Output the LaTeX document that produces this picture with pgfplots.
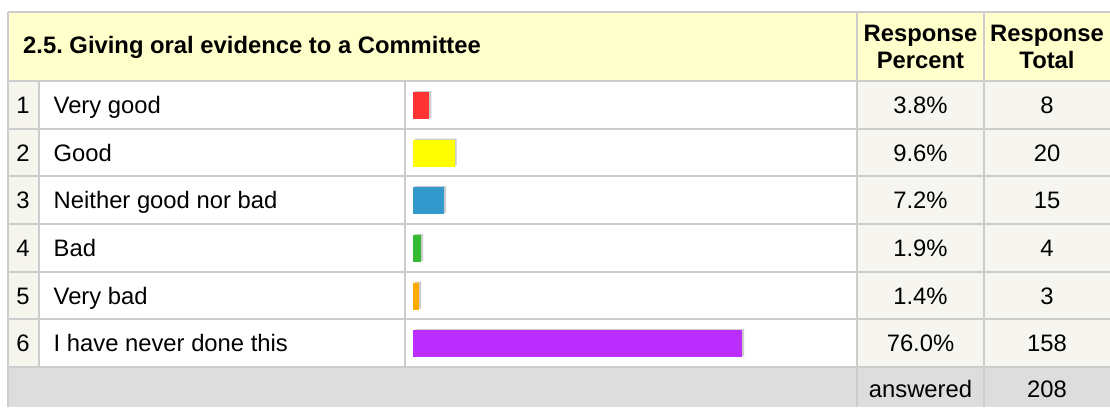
\documentclass[border=0pt]{standalone}
\usepackage{pgfplots}
\pgfplotsset{compat=1.18}
\usepackage{fontspec}
\setmainfont{Liberation Sans}
\frenchspacing
\definecolor{hdr}{HTML}{FFFFCC}
\definecolor{numbg}{HTML}{F5F5EE}
\definecolor{cellbg}{HTML}{F6F5EF}
\definecolor{ansbg}{HTML}{DDDDDD}
\definecolor{grid}{HTML}{CCCCCC}
\definecolor{cred}{HTML}{FF3333}
\definecolor{cyel}{HTML}{FFFF00}
\definecolor{cblue}{HTML}{3399CC}
\definecolor{cgreen}{HTML}{33BB33}
\definecolor{corange}{HTML}{FFAA00}
\definecolor{cpurple}{HTML}{BB2EFF}
\tikzset{txt/.style={inner sep=0pt,font=\fontsize{23.8}{27}\selectfont}}
\begin{document}
\begin{tikzpicture}
\useasboundingbox (0,0) rectangle (1110pt,407pt);
\begin{axis}[at={(0,0)},anchor=south west,scale only axis,width=1110pt,height=407pt,
  xmin=0,xmax=1110,ymin=0,ymax=407,y dir=reverse,hide axis,clip=true]
% backgrounds
\fill[hdr] (8,12) rectangle (1110,81);
\fill[numbg] (8,81) rectangle (38,367);
\fill[white] (38,81) rectangle (857,367);
\fill[cellbg] (857,81) rectangle (1110,367);
\fill[ansbg] (8,367) rectangle (1110,407);
% grid lines
\draw[grid,line width=2pt] (8,12) -- (1110,12);
\draw[grid,line width=2pt] (8,81) -- (1110,81);
\draw[grid,line width=2pt] (8,128.7) -- (1110,128.7);
\draw[grid,line width=2pt] (8,176.3) -- (1110,176.3);
\draw[grid,line width=2pt] (8,224) -- (1110,224);
\draw[grid,line width=2pt] (8,271.7) -- (1110,271.7);
\draw[grid,line width=2pt] (8,319.3) -- (1110,319.3);
\draw[grid,line width=2pt] (8,367) -- (1110,367);
\draw[grid,line width=2pt] (8,12) -- (8,407);
\draw[grid,line width=2pt] (38.5,81) -- (38.5,367);
\draw[grid,line width=2pt] (404.5,81) -- (404.5,367);
\draw[grid,line width=2pt] (857,12) -- (857,407);
\draw[grid,line width=2pt] (984,12) -- (984,407);
% header text
\node[txt,anchor=base west,font=\fontsize{23.8}{27}\selectfont\bfseries] at (23,53.5) {2.5. Giving oral evidence to a Committee};
\node[txt,align=center,font=\fontsize{23.8}{27}\selectfont\bfseries] at (920.5,47) {Response\\Percent};
\node[txt,align=center,font=\fontsize{23.8}{27}\selectfont\bfseries] at (1047,47) {Response\\Total};
% row 1
\node[txt,anchor=base] at (23,113.5) {1};
\node[txt,anchor=base west] at (53.5,113.5) {Very good};
\node[txt,anchor=base] at (920.5,113.5) {3.8\%};
\node[txt,anchor=base] at (1047,113.5) {8};
% row 2
\node[txt,anchor=base] at (23,161) {2};
\node[txt,anchor=base west] at (53.5,161) {Good};
\node[txt,anchor=base] at (920.5,161) {9.6\%};
\node[txt,anchor=base] at (1047,161) {20};
% row 3
\node[txt,anchor=base] at (23,208.7) {3};
\node[txt,anchor=base west] at (53.5,208.7) {Neither good nor bad};
\node[txt,anchor=base] at (920.5,208.7) {7.2\%};
\node[txt,anchor=base] at (1047,208.7) {15};
% row 4
\node[txt,anchor=base] at (23,256.4) {4};
\node[txt,anchor=base west] at (53.5,256.4) {Bad};
\node[txt,anchor=base] at (920.5,256.4) {1.9\%};
\node[txt,anchor=base] at (1047,256.4) {4};
% row 5
\node[txt,anchor=base] at (23,304) {5};
\node[txt,anchor=base west] at (53.5,304) {Very bad};
\node[txt,anchor=base] at (920.5,304) {1.4\%};
\node[txt,anchor=base] at (1047,304) {3};
% row 6
\node[txt,anchor=base] at (23,351.7) {6};
\node[txt,anchor=base west] at (53.5,351.7) {I have never done this};
\node[txt,anchor=base] at (920.5,351.7) {76.0\%};
\node[txt,anchor=base] at (1047,351.7) {158};
% answered
\node[txt,anchor=base] at (920.5,397) {answered};
\node[txt,anchor=base] at (1047,397) {208};
\end{axis}
\begin{axis}[at={(0,0)},anchor=south west,scale only axis,width=1110pt,height=407pt,
  xmin=-95.381,xmax=160.970,ymin=0,ymax=407,y dir=reverse,hide axis,clip=false]
% shadows
\addplot[xbar,bar width=27,bar shift=0pt,fill=grid,draw=none,xshift=2pt,yshift=1pt]
  coordinates {(3.8,105.5) (9.6,153) (7.2,200.7) (1.9,248.4) (1.4,296) (76.0,343.7)};
% bars
\addplot[xbar,bar width=27,bar shift=0pt,fill=cred,draw=none] coordinates {(3.8,105.5)};
\addplot[xbar,bar width=27,bar shift=0pt,fill=cyel,draw=none] coordinates {(9.6,153)};
\addplot[xbar,bar width=27,bar shift=0pt,fill=cblue,draw=none] coordinates {(7.2,200.7)};
\addplot[xbar,bar width=27,bar shift=0pt,fill=cgreen,draw=none] coordinates {(1.9,248.4)};
\addplot[xbar,bar width=27,bar shift=0pt,fill=corange,draw=none] coordinates {(1.4,296)};
\addplot[xbar,bar width=27,bar shift=0pt,fill=cpurple,draw=none] coordinates {(76.0,343.7)};
\end{axis}
\end{tikzpicture}
\end{document}
